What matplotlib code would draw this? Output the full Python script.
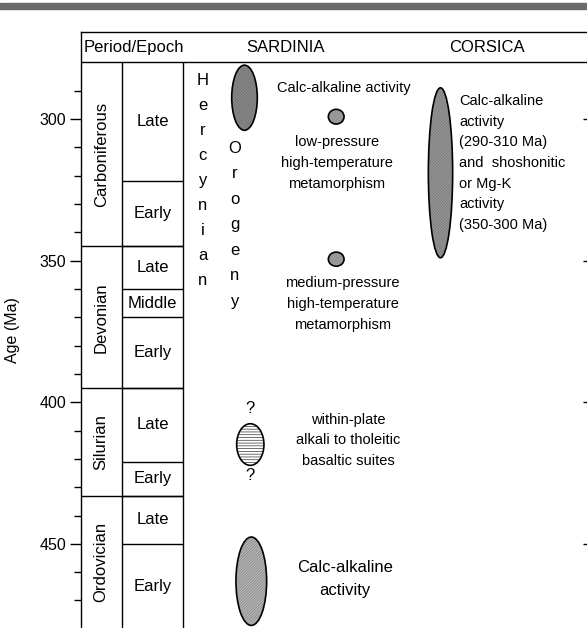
import matplotlib
matplotlib.use("Agg")
import matplotlib.pyplot as plt
from matplotlib.patches import Ellipse, Rectangle

plt.rcParams['font.family'] = ['Liberation Sans', 'DejaVu Sans']
plt.rcParams['hatch.linewidth'] = 0.5

# geologic time scale (Ma)
periods = ['Carboniferous', 'Devonian', 'Silurian', 'Ordovician']
period_top = [280, 345, 395, 433]
period_base = [345, 395, 433, 480]

epochs = ['Late', 'Early', 'Late', 'Middle', 'Early', 'Late', 'Early', 'Late', 'Early']
epoch_top = [280, 322, 345, 360, 370, 395, 421, 433, 450]
epoch_base = [322, 345, 360, 370, 395, 421, 433, 450, 480]

# magmatic / metamorphic events: age span (Ma)
sard_calc_young = (281, 304)
sard_lp_meta = (296.6, 301.8)
sard_mp_meta = (347, 352)
sard_basalt = (407.6, 422.3)
sard_calc_old = (447.6, 478.8)
cors_calc = (289, 349)

major_ticks = [300, 350, 400, 450]
minor_ticks = [290, 310, 320, 330, 340, 360, 370, 380, 390,
               410, 420, 430, 440, 460, 470]

fig = plt.figure(figsize=(5.87, 6.28), dpi=100)
# top scan border
fig.patches.append(Rectangle((0, 1 - 9 / 628), 1, 6 / 628, transform=fig.transFigure,
                             color='#6a6a6a', zorder=0))

ax = fig.add_axes([80.7 / 587, -0.8 / 628, (590 - 80.7) / 587, (628.8 - 32) / 628])
ax.set_xlim(80.7, 590)
ax.set_ylim(480, 269.3)
ax.set_xticks([])
ax.spines['bottom'].set_visible(False)
for s in ['left', 'top', 'right']:
    ax.spines[s].set_linewidth(1.0)

ax.set_yticks(major_ticks)
ax.set_yticks(minor_ticks, minor=True)
ax.tick_params(axis='y', which='major', direction='out', length=8, width=1.0,
               labelsize=11.5, pad=2.5)
ax.tick_params(axis='y', which='minor', direction='out', length=5, width=1.0)
ax.set_ylabel('Age (Ma)', fontsize=11.5)
ax.yaxis.set_label_coords(-0.119, 0.5)

# right side ticks (inward)
ax2 = ax.twinx()
ax2.set_ylim(ax.get_ylim())
ax2.set_yticks(major_ticks)
ax2.tick_params(axis='y', direction='in', length=5, width=1.0, labelright=False)
ax2.set_xticks([])
for s in ax2.spines.values():
    s.set_visible(False)

x_per, x_ep, x_end = 80.7, 121.7, 183.3

# header
ax.hlines(280, x_per, 590, color='k', lw=1.0)
ax.text(134, 274.6, 'Period/Epoch', ha='center', va='center', fontsize=12)
ax.text(286, 274.6, 'SARDINIA', ha='center', va='center', fontsize=12)
ax.text(487, 274.6, 'CORSICA', ha='center', va='center', fontsize=12)

# time scale columns
ax.vlines([x_ep, x_end], 280, 480, color='k', lw=1.0)
for name, top, base in zip(periods, period_top, period_base):
    if top > 280:
        ax.hlines(top, x_per, x_end, color='k', lw=1.0)
    ax.text((x_per + x_ep) / 2, (top + base) / 2, name, rotation=90,
            ha='center', va='center', fontsize=12)
for name, top, base in zip(epochs, epoch_top, epoch_base):
    if top > 280:
        ax.hlines(top, x_ep, x_end, color='k', lw=1.0)
    ax.text((x_ep + x_end) / 2, (top + base) / 2, name,
            ha='center', va='center', fontsize=12)

# Hercynian Orogeny written vertically
for i, ch in enumerate('Hercynian'):
    ax.text(202.7, 286.5 + i * 8.83, ch, ha='center', va='center', fontsize=12)
for i, ch in enumerate('Orogeny'):
    ax.text(235, 310.3 + i * 9.0, ch, ha='center', va='center', fontsize=12)


def blob(x, span, width, face, hatch, hcolor):
    yc = (span[0] + span[1]) / 2
    h = span[1] - span[0]
    ax.add_patch(Ellipse((x, yc), width, h, facecolor=face, edgecolor=hcolor,
                         lw=0, hatch=hatch, zorder=2))
    ax.add_patch(Ellipse((x, yc), width, h, fill=False, edgecolor='k',
                         lw=1.2, zorder=3))


stipple = '/' * 12
blob(244.5, sard_calc_young, 25.6, '#8e8e8e', stipple, '#666666')
blob(336.2, sard_lp_meta, 15.7, '#a8a8a8', stipple, '#7c7c7c')
blob(336.2, sard_mp_meta, 15.7, '#a8a8a8', stipple, '#7c7c7c')
blob(440.5, cors_calc, 24.3, '#9a9a9a', stipple, '#707070')
blob(250.3, sard_basalt, 27.3, 'white', '-' * 6, '#333333')
blob(251.3, sard_calc_old, 30.7, '#b6b6b6', stipple, '#858585')

# question marks around the basaltic suites
ax.text(250, 402.3, '?', ha='center', va='center', fontsize=12)
ax.text(250, 425.9, '?', ha='center', va='center', fontsize=12)

# annotations
fs = 10.5
ax.text(344, 289, 'Calc-alkaline activity', ha='center', va='center', fontsize=fs)
for y, s in zip([308, 315.6, 323],
                ['low-pressure', 'high-temperature', 'metamorphism']):
    ax.text(337, y, s, ha='center', va='center', fontsize=fs)
for y, s in zip([358, 365.4, 372.7],
                ['medium-pressure', 'high-temperature', 'metamorphism']):
    ax.text(342.7, y, s, ha='center', va='center', fontsize=fs)
for y, s in zip([406.2, 413.5, 420.6],
                ['within-plate', 'alkali to tholeitic', 'basaltic suites']):
    ax.text(348.3, y, s, ha='center', va='center', fontsize=fs)
for y, s in zip([458.3, 466.5], ['Calc-alkaline', 'activity']):
    ax.text(345.3, y, s, ha='center', va='center', fontsize=12)

cors_lines = ['Calc-alkaline', 'activity', '(290-310 Ma)', 'and  shoshonitic',
              'or Mg-K', 'activity', '(350-300 Ma)']
for i, s in enumerate(cors_lines):
    ax.text(459.3, 293.6 + i * 7.3, s, ha='left', va='center', fontsize=fs)

fig.savefig('out.png', dpi=100)
